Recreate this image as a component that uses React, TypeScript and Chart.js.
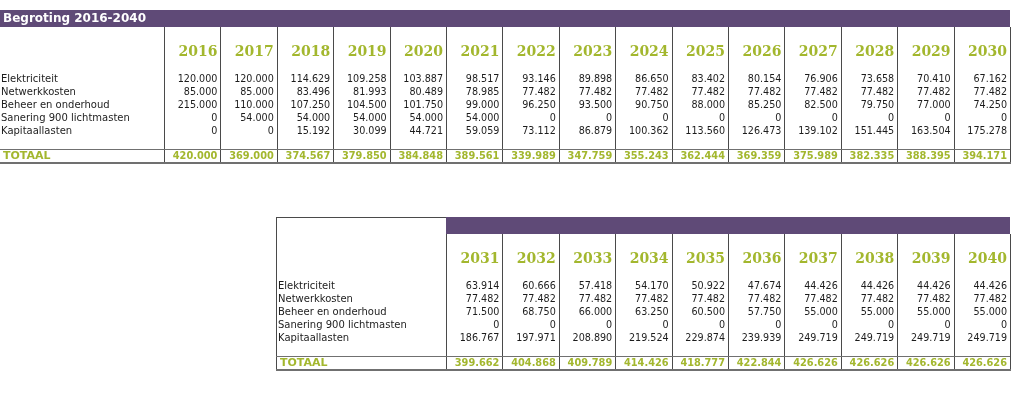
import { useEffect, useRef } from 'react';
import { Chart, registerables } from 'chart.js';
Chart.register(...registerables);

const title = 'Begroting 2016-2040';
const totalLabel = 'TOTAAL';
const years = [2016, 2017, 2018, 2019, 2020, 2021, 2022, 2023, 2024, 2025, 2026, 2027, 2028, 2029, 2030,
  2031, 2032, 2033, 2034, 2035, 2036, 2037, 2038, 2039, 2040];
const rowLabels = ['Elektriciteit', 'Netwerkkosten', 'Beheer en onderhoud', 'Sanering 900 lichtmasten', 'Kapitaallasten'];
const elektriciteit = [120000, 120000, 114629, 109258, 103887, 98517, 93146, 89898, 86650, 83402, 80154, 76906, 73658, 70410, 67162,
  63914, 60666, 57418, 54170, 50922, 47674, 44426, 44426, 44426, 44426];
const netwerkkosten = [85000, 85000, 83496, 81993, 80489, 78985, 77482, 77482, 77482, 77482, 77482, 77482, 77482, 77482, 77482,
  77482, 77482, 77482, 77482, 77482, 77482, 77482, 77482, 77482, 77482];
const beheer = [215000, 110000, 107250, 104500, 101750, 99000, 96250, 93500, 90750, 88000, 85250, 82500, 79750, 77000, 74250,
  71500, 68750, 66000, 63250, 60500, 57750, 55000, 55000, 55000, 55000];
const sanering = [0, 54000, 54000, 54000, 54000, 54000, 0, 0, 0, 0, 0, 0, 0, 0, 0,
  0, 0, 0, 0, 0, 0, 0, 0, 0, 0];
const kapitaallasten = [0, 0, 15192, 30099, 44721, 59059, 73112, 86879, 100362, 113560, 126473, 139102, 151445, 163504, 175278,
  186767, 197971, 208890, 219524, 229874, 239939, 249719, 249719, 249719, 249719];
const totaal = [420000, 369000, 374567, 379850, 384848, 389561, 339989, 347759, 355243, 362444, 369359, 375989, 382335, 388395, 394171,
  399662, 404868, 409789, 414426, 418777, 422844, 426626, 426626, 426626, 426626];
const rows = [elektriciteit, netwerkkosten, beheer, sanering, kapitaallasten];

// layout (pixel units of the hidden linear scales)
const W = 1024;
const H = 400;
const COL_W = 56.4;
const tables = [
  { first: 0, count: 15, colX: 164, top: 10, labelX: 1, boxLeft: 0, withTitle: true, boxed: false },
  { first: 15, count: 10, colX: 446, top: 217, labelX: 278, boxLeft: 276, withTitle: false, boxed: true },
];
const PURPLE = '#5f4a77';
const GREEN = '#a3b72e';
const LINE = '#4a4a4a';
const TEXT = '#1c1c1c';
const SANS = '"DejaVu Sans", Verdana, sans-serif';
const SERIF = '"DejaVu Serif", Georgia, serif';

const fmt = (v: number) => (v === 0 ? '0' : Math.round(v).toString().replace(/\B(?=(\d{3})+(?!\d))/g, '.'));

const tablePlugin = {
  id: 'tablePlugin',
  afterDraw(chart: any) {
    const ctx = chart.ctx as CanvasRenderingContext2D;
    const sx = chart.scales.x;
    const sy = chart.scales.y;
    const px = (v: number) => sx.getPixelForValue(v);
    const py = (v: number) => sy.getPixelForValue(v);
    const hline = (x1: number, x2: number, y: number, color: string, w: number) => {
      ctx.strokeStyle = color;
      ctx.lineWidth = w;
      ctx.beginPath();
      const yy = Math.round(py(y)) + (w % 2 ? 0.5 : 0);
      ctx.moveTo(px(x1), yy);
      ctx.lineTo(px(x2), yy);
      ctx.stroke();
    };
    const vline = (x: number, y1: number, y2: number, color: string, w: number) => {
      ctx.strokeStyle = color;
      ctx.lineWidth = w;
      ctx.beginPath();
      const xx = Math.round(px(x)) + (w % 2 ? 0.5 : 0);
      ctx.moveTo(xx, py(y1));
      ctx.lineTo(xx, py(y2));
      ctx.stroke();
    };
    ctx.save();
    tables.forEach((t) => {
      const right = t.colX + t.count * COL_W;
      const barLeft = t.withTitle ? t.boxLeft : t.colX;
      // purple header bar
      ctx.fillStyle = PURPLE;
      ctx.fillRect(px(barLeft), py(t.top), px(right) - px(barLeft), py(t.top + 17) - py(t.top));
      if (t.withTitle) {
        ctx.fillStyle = '#ffffff';
        ctx.font = `bold 12px ${SANS}`;
        ctx.textAlign = 'left';
        ctx.textBaseline = 'middle';
        ctx.fillText(title, px(3), py(t.top + 9));
      }
      if (t.boxed) {
        hline(t.boxLeft, t.colX, t.top, LINE, 1);
        vline(t.boxLeft, t.top, t.top + 154, LINE, 1);
      }
      // vertical dividers
      for (let k = 0; k <= t.count; k++) {
        vline(t.colX + k * COL_W, t.top + 17, t.top + 154, LINE, 1);
      }
      // total separators
      hline(t.boxLeft, right, t.top + 139, '#707070', 1);
      hline(t.boxLeft, right + 1, t.top + 153, '#707070', 2);
      // years
      ctx.textAlign = 'right';
      ctx.textBaseline = 'middle';
      ctx.fillStyle = GREEN;
      ctx.font = `bold 14px ${SERIF}`;
      for (let k = 0; k < t.count; k++) {
        ctx.fillText(String(years[t.first + k]), px(t.colX + (k + 1) * COL_W - 3), py(t.top + 42.5));
      }
      // rows
      rows.forEach((series, r) => {
        const y = py(t.top + 69 + r * 13);
        ctx.fillStyle = TEXT;
        ctx.font = `10px ${SANS}`;
        ctx.textAlign = 'left';
        ctx.fillText(rowLabels[r], px(t.labelX), y);
        ctx.textAlign = 'right';
        ctx.font = `9.6px ${SANS}`;
        for (let k = 0; k < t.count; k++) {
          ctx.fillText(fmt(series[t.first + k]), px(t.colX + (k + 1) * COL_W - 3), y);
        }
      });
      // totals
      ctx.fillStyle = GREEN;
      ctx.textAlign = 'left';
      ctx.font = `bold 11px ${SANS}`;
      ctx.fillText(totalLabel, px(t.labelX + 2), py(t.top + 146.5));
      ctx.textAlign = 'right';
      ctx.font = `bold 9.8px ${SANS}`;
      for (let k = 0; k < t.count; k++) {
        ctx.fillText(fmt(totaal[t.first + k]), px(t.colX + (k + 1) * COL_W - 3), py(t.top + 146.5));
      }
    });
    ctx.restore();
  },
};

export default function App() {
  const ref = useRef<HTMLCanvasElement | null>(null);
  useEffect(() => {
    document.body.style.margin = '0';
    const canvas = ref.current;
    if (!canvas) return;
    const chart = new Chart(canvas, {
      type: 'scatter',
      data: { datasets: [{ data: [], pointRadius: 0 }] },
      options: {
        animation: false,
        responsive: false,
        devicePixelRatio: 1,
        layout: { padding: 0 },
        scales: {
          x: { type: 'linear', min: 0, max: W, display: false },
          y: { type: 'linear', min: 0, max: H, reverse: true, display: false },
        },
        plugins: { legend: { display: false }, tooltip: { enabled: false }, title: { display: false } },
      },
      plugins: [tablePlugin],
    });
    return () => chart.destroy();
  }, []);
  return (
    <div style={{ position: 'absolute', left: 0, top: 0, width: W, height: H, background: '#ffffff' }}>
      <canvas ref={ref} width={W} height={H} style={{ width: W, height: H, display: 'block' }} />
    </div>
  );
}
